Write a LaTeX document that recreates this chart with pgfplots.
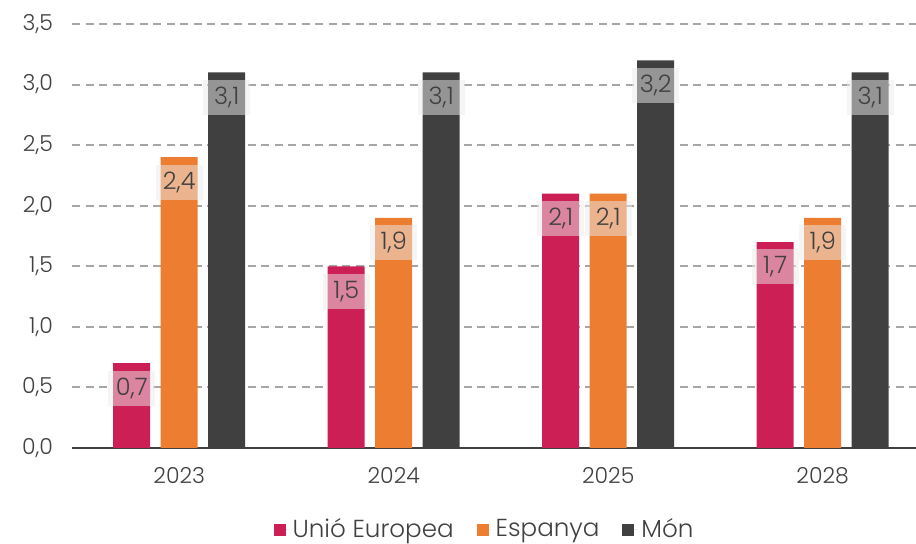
\documentclass[border=0pt]{standalone}
\usepackage{fontspec}
\setmainfont{Poppins Light}
\usepackage{pgfplots}
\pgfplotsset{compat=1.18}
\definecolor{ue}{HTML}{CC1F56}
\definecolor{esp}{HTML}{ED7D31}
\definecolor{mon}{HTML}{404040}
\definecolor{txt}{HTML}{404040}
\definecolor{grd}{HTML}{A6A6A6}
\pgfplotsset{sqleg/.style={legend image code/.code={\fill[##1] (0pt,-3pt) rectangle (6pt,3pt); \path (0pt,0pt) -- (7.5pt,0pt);}}}
\begin{document}
\begin{tikzpicture}
\begin{axis}[
 scale only axis, width=422pt, height=212pt,
 xmin=-0.5, xmax=3.435, ymin=0, ymax=3.5,
 ybar=5.25pt, bar width=18.5pt,
 xtick={0,1,2,3}, xticklabels={2023,2024,2025,2028},
 ytick={0,0.5,...,3.5},
 axis x line*=bottom, axis y line*=left,
 x axis line style={-, draw=mon, line width=1pt},
 y axis line style={draw=none},
 major tick length=0pt, tick style={draw=none},
 ymajorgrids, grid style={grd, line width=1pt, dash pattern=on 4pt off 2.75pt},
 yticklabel style={font=\fontsize{11}{13}\selectfont, text=txt, xshift=-6pt},
 xticklabel style={font=\fontsize{11}{13}\selectfont, text=txt, yshift=-6pt},
 /pgf/number format/.cd, fixed, fixed zerofill, precision=1, use comma, assume math mode=true, /pgfplots/.cd,
 nodes near coords={\pgfmathprintnumber[fixed,fixed zerofill,precision=1,use comma,assume math mode=true]{\pgfplotspointmeta}},
 every node near coord/.append style={anchor=north, yshift=-3.5pt, fill=white!92!black, fill opacity=0.5, text opacity=1, text=txt, minimum width=23.5pt, minimum height=17.5pt, inner sep=0pt, font=\fontsize{12}{14}\selectfont},
 legend style={at={(0.49,-0.193)}, anchor=center, draw=none, fill=none, legend columns=-1, font=\fontsize{12.3}{14}\selectfont, text=txt, /tikz/every even column/.append style={column sep=9.5pt}},
]
\addplot[fill=ue, draw=none, sqleg] coordinates {(0,0.7) (1,1.5) (2,2.1) (3,1.7)};
\addplot[fill=esp, draw=none, sqleg] coordinates {(0,2.4) (1,1.9) (2,2.1) (3,1.9)};
\addplot[fill=mon, draw=none, sqleg] coordinates {(0,3.1) (1,3.1) (2,3.2) (3,3.1)};
\legend{Unió Europea, Espanya, Món}
\end{axis}
\pgfresetboundingbox
\path[use as bounding box] ([xshift=-36pt,yshift=-48pt]current axis.south west) rectangle ([yshift=12pt]current axis.north east);
\end{tikzpicture}
\end{document}
